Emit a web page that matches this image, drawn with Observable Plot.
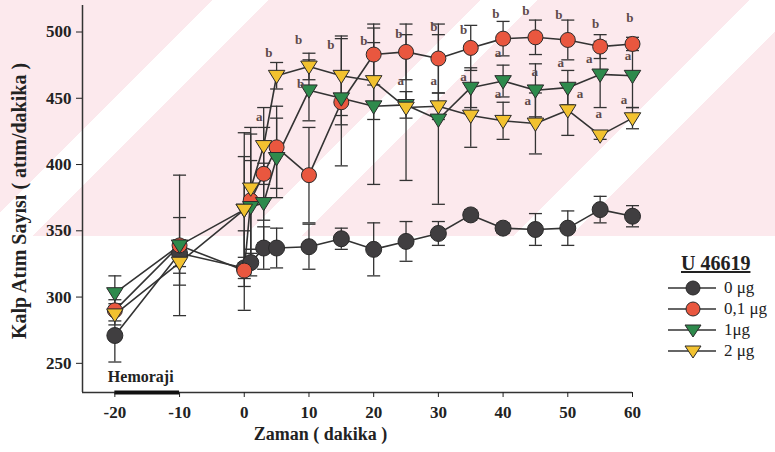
<!DOCTYPE html>
<html><head><meta charset="utf-8">
<script src="https://cdn.jsdelivr.net/npm/d3@7"></script>
<script src="https://cdn.jsdelivr.net/npm/@observablehq/plot@0.6"></script>
<style>
body{margin:0;background:#fff;}
#wrap{position:relative;width:775px;height:452px;overflow:hidden;}
#bg{position:absolute;left:0;top:0;width:775px;height:236px;
 background:repeating-linear-gradient(135deg,#fce9ed 0px,#fce9ed 150px,#ffffff 150px,#ffffff 190px);}
#chart{position:absolute;left:0;top:0;}
#ylab{position:absolute;left:19px;top:201px;transform:translate(-50%,-50%) rotate(-90deg);white-space:nowrap;
 font-family:"Liberation Serif",serif;font-weight:bold;font-size:20px;color:#222;}
#legend{position:absolute;left:666px;top:252px;font-family:"Liberation Serif",serif;color:#222;}
#legend .title{font-weight:bold;font-size:20px;text-decoration:underline;margin-left:15px;line-height:22px;margin-bottom:3px;}
#legend .row{display:flex;align-items:center;height:21px;font-size:17px;}
#legend svg{margin-right:6px;}
</style></head><body>
<div id="wrap"><div id="bg"></div><div id="chart"></div><div id="ylab">Kalp Atım Sayısı ( atım/dakika )</div><div id="legend"></div></div>
<script>
const times = [-20, -10, 0, 1, 3, 5, 10, 15, 20, 25, 30, 35, 40, 45, 50, 55, 60];
const dose0    = [271, 333, 322, 326, 337, 337, 338, 344, 336, 342, 348, 362, 352, 351, 352, 366, 361];
const dose0Err = [20, 10, 8, 10, 16, 15, 17, 8, 20, 15, 9, 4, 4, 12, 13, 10, 8];
const dose01    = [290, 339, 320, 373, 393, 413, 392, 447, 483, 485, 480, 488, 495, 496, 494, 489, 491];
const dose01Err = [8, 53, 30, 50, 35, 31, 36, 48, 23, 21, 26, 17, 13, 13, 15, 9, 5];
const dose1    = [303, 339, 366, 368, 371, 405, 456, 450, 444, 445, 434, 458, 463, 456, 458, 468, 467];
const dose1Err = [13, 21, 40, 35, 30, 30, 23, 20, 59, 10, 64, 15, 12, 20, 13, 25, 24];
const dose2    = [287, 326, 366, 382, 414, 467, 474, 467, 463, 443, 444, 437, 433, 431, 441, 422, 435];
const dose2Err = [8, 17, 58, 46, 29, 10, 10, 30, 29, 55, 10, 24, 14, 23, 19, 3, 8];
const seriesNames = ["0 μg", "0,1 μg", "1μg", "2 μg"];
const xTicks = [-20, -10, 0, 10, 20, 30, 40, 50, 60];
const yTicks = [250, 300, 350, 400, 450, 500];
const letterText = ["b","b","b","b","b","b","b","b","b","b","b","b","b",
                    "a","a","a","a","a","a","a","a","a","a","a","a","a","a"];
const letterT = [3.8, 8.4, 8.7, 13.4, 18.5, 23.9, 29.3, 33.9, 38.9, 43.5, 48.6, 54.3, 59.6,
                 2.3, 24.2, 29.3, 33.9, 39.2, 39.2, 43.8, 44.9, 48.9, 51.9, 53.3, 54.8, 58.7, 59.3];
const letterV = [484, 494, 461, 490, 493, 499, 504, 502, 514, 516, 513, 506, 511,
                 436, 463, 463, 466, 484, 453, 448, 470, 477, 453, 480, 438, 449, 482];

const colors = ["#403e40", "#e9573f", "#2e8a4c", "#f2c230"];
const radii = [8, 7.5, 7.5, 7.5];
const triDown = {draw(ctx, size){const r=Math.sqrt(size/Math.PI); const w=r*1.1;
  ctx.moveTo(-w,-r*0.72); ctx.lineTo(w,-r*0.72); ctx.lineTo(0,r*1.05); ctx.closePath();}};
const capSym = {draw(ctx, size){const r=Math.sqrt(size/Math.PI); ctx.moveTo(-r,0); ctx.lineTo(r,0);}};
const symbols = ["circle", "circle", triDown, triDown];

const allVals = [dose0, dose01, dose1, dose2];
const allErr = [dose0Err, dose01Err, dose1Err, dose2Err];
const rows = seriesNames.flatMap((name, s) => times.map((t, i) => ({
  dose: name, s, t, v: allVals[s][i], lo: allVals[s][i]-allErr[s][i], hi: allVals[s][i]+allErr[s][i]
})));
const letters = letterText.map((l, i) => ({l, t: letterT[i], v: letterV[i]}));

const font = "Liberation Serif";
const dotMarks = [0,1,2,3].map(s => Plot.dot(rows.filter(d => d.s === s), {
  x: "t", y: "v", r: radii[s], symbol: () => symbols[s], fill: colors[s], stroke: "#2a2a2a", strokeWidth: 1
}));

const chart = Plot.plot({
  width: 775, height: 452,
  marginLeft: 82, marginRight: 143, marginTop: 5, marginBottom: 60,
  style: {background: "transparent", fontFamily: font, fontWeight: "bold", fontSize: "17px", color: "#222"},
  x: {domain: [-25, 60]},
  y: {domain: [228, 520]},
  symbol: {type: "identity"},
  marks: [
    Plot.ruleX(rows, {x: "t", y1: "lo", y2: "hi", stroke: "#333", strokeWidth: 1.3}),
    Plot.dot(rows, {x: "t", y: "lo", r: 6.5, symbol: () => capSym, stroke: "#333", strokeWidth: 1.3}),
    Plot.dot(rows, {x: "t", y: "hi", r: 6.5, symbol: () => capSym, stroke: "#333", strokeWidth: 1.3}),
    Plot.line(rows, {x: "t", y: "v", z: "dose", stroke: "#333", strokeWidth: 1.6}),
    ...dotMarks,
    Plot.text(letters, {x: "t", y: "v", text: "l", fill: "#5e4a4a", fontSize: 13, fontWeight: "bold"}),
    Plot.ruleY([228], {stroke: "#333", strokeWidth: 1.5}),
    Plot.ruleX([-25], {stroke: "#333", strokeWidth: 1.5}),
    Plot.ruleY([228], {x1: -20, x2: -10, stroke: "#111", strokeWidth: 4}),
    Plot.text(["Hemoraji"], {x: -20, y: 228, dx: -7, dy: -16, textAnchor: "start", fontSize: 16, fontWeight: "bold", fill: "#222"}),
    Plot.axisX({ticks: xTicks, tickFormat: d => String(d), tickSize: 5, tickPadding: 8, label: null, fontSize: 17, fontWeight: "bold"}),
    Plot.axisY({ticks: yTicks, tickFormat: d => String(d), tickSize: 6, tickPadding: 5, label: null, fontSize: 17, fontWeight: "bold"}),
    Plot.text(["Zaman ( dakika )"], {frameAnchor: "bottom", dx: -37, dy: 47, fontSize: 18, fontWeight: "bold", fill: "#222"})
  ]
});
document.getElementById("chart").appendChild(chart);

// legend
const leg = document.getElementById("legend");
leg.innerHTML = '<div class="title">U 46619</div>';
seriesNames.forEach((name, s) => {
  const row = document.createElement("div"); row.className = "row";
  const shape = s < 2
    ? `<circle cx="27" cy="10" r="7" fill="${colors[s]}" stroke="#2a2a2a"/>`
    : `<path d="M19,5 L35,5 L27,17 Z" fill="${colors[s]}" stroke="#2a2a2a"/>`;
  row.innerHTML = `<svg width="52" height="20"><line x1="2" y1="10" x2="50" y2="10" stroke="#333" stroke-width="1.6"/>${shape}</svg><span>${name}</span>`;
  leg.appendChild(row);
});
</script>
</body></html>
